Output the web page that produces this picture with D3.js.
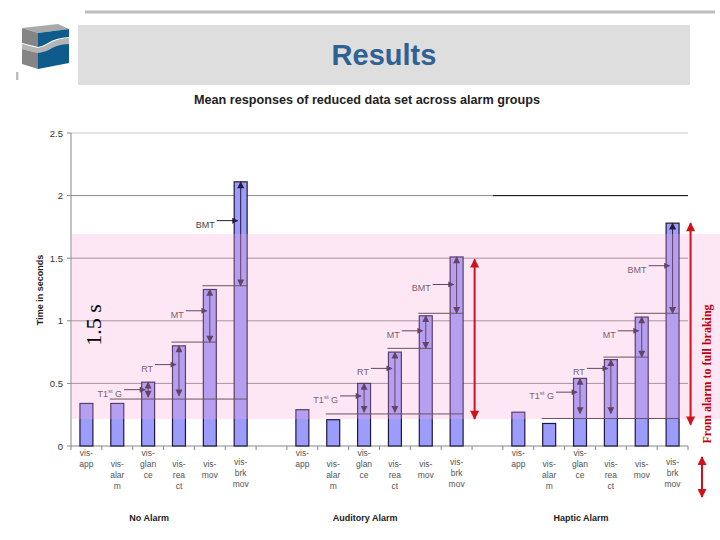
<!DOCTYPE html>
<html><head><meta charset="utf-8">
<script src="https://cdn.jsdelivr.net/npm/d3@7"></script>
<style>body{margin:0;background:#fff}svg{display:block;font-family:"Liberation Sans",Arial,sans-serif}</style>
</head><body>
<svg id="c" width="720" height="540"></svg>
<script>
// ---------- data ----------
const groups = ["No Alarm", "Auditory Alarm", "Haptic Alarm"];
const categories = ["vis-app", "vis-alarm", "vis-glance", "vis-react", "vis-mov", "vis-brk-mov"];
const categoryLines = [["vis-","app"],["vis-","alar","m"],["vis-","glan","ce"],["vis-","rea","ct"],["vis-","mov"],["vis-","brk","mov"]];
const noAlarm  = [0.34, 0.34, 0.51, 0.80, 1.25, 2.11];
const auditory = [0.29, 0.21, 0.50, 0.75, 1.04, 1.51];
const haptic   = [0.27, 0.18, 0.54, 0.69, 1.03, 1.78];
const yTicks = [0, 0.5, 1, 1.5, 2, 2.5];
const yTickLabels = ["0", "0.5", "1", "1.5", "2", "2.5"];
// phase arrows (low, high) on glance, react, mov, brk-mov bars
const phaseLabels = ["T1", "RT", "MT", "BMT"];
const noAlarmPhases  = [[0.39,0.51],[0.40,0.80],[0.83,1.25],[1.28,2.11]];
const auditoryPhases = [[0.27,0.50],[0.27,0.75],[0.78,1.04],[1.06,1.51]];
const hapticPhases   = [[0.26,0.54],[0.26,0.69],[0.71,1.03],[1.06,1.78]];
const noAlarmPointer  = [0.45, 0.65, 1.08, 1.80];
const auditoryPointer = [0.40, 0.62, 0.92, 1.29];
const hapticPointer   = [0.43, 0.62, 0.92, 1.44];
// level lines: value, from category, to category
const noAlarmLevels  = [[0.375,1,5],[0.83,3,4],[1.28,4,5]];
const auditoryLevels = [[0.256,1,5],[0.78,3,4],[1.06,4,5]];
const hapticLevels   = [[0.22,1,5],[0.71,3,4],[1.06,4,5]];
// red spans (alarm to full braking)
const redSpans = [null, [0.216, 1.49], [0.17, 1.78]];
const pinkBand = [0.216, 1.693];

const groupValues = [noAlarm, auditory, haptic];
const groupPhases = [noAlarmPhases, auditoryPhases, hapticPhases];
const groupPointers = [noAlarmPointer, auditoryPointer, hapticPointer];
const groupLevels = [noAlarmLevels, auditoryLevels, hapticLevels];

// ---------- setup ----------
const svg = d3.select("#c");
const defs = svg.append("defs");
function marker(id, color, w, h) {
  defs.append("marker").attr("id", id).attr("viewBox", "0 0 10 10")
    .attr("refX", 9).attr("refY", 5).attr("markerUnits", "userSpaceOnUse")
    .attr("markerWidth", w).attr("markerHeight", h).attr("orient", "auto-start-reverse")
    .append("path").attr("d", "M0,0L10,5L0,10Z").attr("fill", color);
}
marker("ah", "#2a1d3a", 8, 7);
marker("ahs", "#2a1d3a", 7, 6);
marker("ahr", "#d0101a", 11, 9);

// slots: 6 categories per group with one empty slot between groups
const slots = [];
groups.forEach((g, gi) => {
  categories.forEach(c => slots.push(g + "|" + c));
  if (gi < groups.length - 1) slots.push("gap" + gi);
});
const x = d3.scaleBand().domain(slots).range([71, 688]).paddingInner(0.58).paddingOuter(0.29);
const xs = d3.scaleBand().domain(slots).range([71, 688]);
const y = d3.scaleLinear().domain([0, 2.5]).range([446, 133]);
const key = (gi, ci) => groups[gi] + "|" + categories[ci];
const cx = (gi, ci) => x(key(gi, ci)) + x.bandwidth() / 2;

// ---------- header ----------
svg.append("line").attr("x1", 85).attr("x2", 715).attr("y1", 12).attr("y2", 12)
  .attr("stroke", "#bdbdbd").attr("stroke-width", 3);
svg.append("rect").attr("x", 78).attr("y", 25).attr("width", 612).attr("height", 60).attr("fill", "#dedede");
svg.append("text").attr("x", 384).attr("y", 65).attr("text-anchor", "middle")
  .attr("font-size", 29).attr("font-weight", "bold").attr("fill", "#2f6193").text("Results");
// logo
const logo = svg.append("g");
logo.append("path").attr("d", "M22,28 L58,24 L69,29 L38,33 Z").attr("fill", "#a9a9a9");
logo.append("path").attr("d", "M22,28 L38,33 L38,47 L22,43 Z").attr("fill", "#858585");
logo.append("path").attr("d", "M38,33 L69,29 L69,37 Q55,38 48,43 Q43,46 38,47 Z").attr("fill", "#0f5b8b");
logo.append("path").attr("d", "M22,44 L38,48 Q46,46 52,42 Q60,38 69,38 L69,44 Q58,45 50,49 Q44,53 38,53 L22,49 Z").attr("fill", "#b5b5b5");
logo.append("path").attr("d", "M22,49 L38,53 L38,69 L22,64 Z").attr("fill", "#858585");
logo.append("path").attr("d", "M38,53 Q46,52 52,48 Q60,44 69,44 L69,63 L38,69 Z").attr("fill", "#0f5b8b");
svg.append("rect").attr("x", 16).attr("y", 72).attr("width", 2.5).attr("height", 8).attr("fill", "#bdbdbd");

svg.append("text").attr("x", 367).attr("y", 104).attr("text-anchor", "middle")
  .attr("font-size", 13).attr("font-weight", "bold").attr("fill", "#222")
  .attr("textLength", 346).attr("lengthAdjust", "spacingAndGlyphs")
  .text("Mean responses of reduced data set across alarm groups");

// ---------- axes & gridlines ----------
const grid = svg.append("g");
yTicks.forEach((t, i) => {
  if (t > 0) grid.append("line").attr("x1", 71).attr("x2", 688).attr("y1", y(t)).attr("y2", y(t))
    .attr("stroke", i === 5 ? "#c8c8c8" : "#8a8a8a").attr("stroke-width", 1);
  grid.append("line").attr("x1", 67).attr("x2", 71).attr("y1", y(t)).attr("y2", y(t)).attr("stroke", "#888");
  grid.append("text").attr("x", 63).attr("y", y(t) + 3.5).attr("text-anchor", "end")
    .attr("font-size", 9.5).attr("fill", "#333").text(yTickLabels[i]);
});
grid.append("line").attr("x1", 71).attr("x2", 71).attr("y1", y(2.5)).attr("y2", y(0)).attr("stroke", "#888");
grid.append("line").attr("x1", 71).attr("x2", 688).attr("y1", y(0)).attr("y2", y(0)).attr("stroke", "#888");
slots.concat(["end"]).forEach((s, i) => {
  const xx = i < slots.length ? xs(s) : 688;
  grid.append("line").attr("x1", xx).attr("x2", xx).attr("y1", y(0)).attr("y2", y(0) + 4).attr("stroke", "#888");
});
svg.append("text").attr("transform", "translate(43,290) rotate(-90)").attr("text-anchor", "middle")
  .attr("font-size", 9).attr("font-weight", "bold").attr("fill", "#222").text("Time in seconds");

// ---------- bars ----------
const barsG = svg.append("g");
groups.forEach((g, gi) => {
  barsG.selectAll(null).data(groupValues[gi]).join("rect")
    .attr("x", (d, ci) => x(key(gi, ci))).attr("width", x.bandwidth())
    .attr("y", d => y(d)).attr("height", d => y(0) - y(d))
    .attr("fill", "#9c9cfb").attr("stroke", "#1c1840").attr("stroke-width", 1.2);
});

// ---------- annotations ----------
const ann = svg.append("g");
groups.forEach((g, gi) => {
  groupLevels[gi].forEach(([v, a, b]) => {
    ann.append("line").attr("x1", x(key(gi, a)) - 1).attr("x2", x(key(gi, b)) + x.bandwidth())
      .attr("y1", y(v)).attr("y2", y(v)).attr("stroke", "#333").attr("stroke-width", 1);
  });
  groupPhases[gi].forEach(([lo, hi], k) => {
    const xx = cx(gi, k + 2);
    ann.append("line").attr("x1", xx).attr("x2", xx).attr("y1", y(lo)).attr("y2", y(hi))
      .attr("stroke", "#2a1d3a").attr("stroke-width", 1)
      .attr("marker-start", "url(#ah)").attr("marker-end", "url(#ah)");
    const py = y(groupPointers[gi][k]);
    const end = xx - 3, start = end - 21;
    ann.append("line").attr("x1", start).attr("x2", end).attr("y1", py).attr("y2", py)
      .attr("stroke", "#2a1d3a").attr("stroke-width", 1).attr("marker-end", "url(#ahs)");
    const t = ann.append("text").attr("x", start - 2).attr("y", py + 7).attr("text-anchor", "end")
      .attr("font-size", 9).attr("fill", "#444");
    if (k === 0) {
      t.append("tspan").text("T1");
      t.append("tspan").attr("font-size", 6).attr("dy", -4).text("st");
      t.append("tspan").attr("dy", 4).text(" G");
    } else t.text(phaseLabels[k]);
  });
});

// category labels
groups.forEach((g, gi) => {
  categories.forEach((c, ci) => {
    const firstY = (ci === 0 || ci === 2) ? 456 : (ci === 5 ? 465 : 467);
    const t = svg.append("text").attr("text-anchor", "middle").attr("font-size", 8.5).attr("fill", "#555");
    categoryLines[ci].forEach((ln, li) => {
      t.append("tspan").attr("x", cx(gi, ci)).attr("y", firstY + li * 11).text(ln);
    });
  });
  svg.append("text").attr("x", cx(gi, 2) + 1).attr("y", 521).attr("text-anchor", "middle")
    .attr("font-size", 9).attr("font-weight", "bold").attr("fill", "#222").text(g);
});

// pink overlay
svg.append("rect").attr("x", 71).attr("width", 720 - 71)
  .attr("y", y(pinkBand[1])).attr("height", y(pinkBand[0]) - y(pinkBand[1]))
  .attr("fill", "rgb(250,170,215)").attr("opacity", 0.28);

// dark line at 2 in haptic region
svg.append("line").attr("x1", xs(groups[2] + "|" + categories[0]) - 10).attr("x2", 688)
  .attr("y1", y(2)).attr("y2", y(2)).attr("stroke", "#111").attr("stroke-width", 1);

// red arrows
redSpans.forEach((s, gi) => {
  if (!s) return;
  const xx = cx(gi, 5) + 18;
  svg.append("line").attr("x1", xx).attr("x2", xx).attr("y1", y(s[0])).attr("y2", y(s[1]))
    .attr("stroke", "#d0101a").attr("stroke-width", 2)
    .attr("marker-start", "url(#ahr)").attr("marker-end", "url(#ahr)");
});
svg.append("line").attr("x1", 702).attr("x2", 702).attr("y1", 457).attr("y2", 497)
  .attr("stroke", "#d0101a").attr("stroke-width", 2)
  .attr("marker-start", "url(#ahr)").attr("marker-end", "url(#ahr)");

svg.append("text").attr("transform", "translate(711,374) rotate(-90)").attr("text-anchor", "middle")
  .attr("font-family", "'Liberation Serif','Times New Roman',serif").attr("font-size", 12)
  .attr("font-weight", "bold").attr("fill", "#c00010").text("From alarm to full braking");
svg.append("text").attr("transform", "translate(101,325) rotate(-90)").attr("text-anchor", "middle")
  .attr("font-family", "'Liberation Serif','Times New Roman',serif").attr("font-size", 22)
  .attr("fill", "#000").text("1.5 s");
</script>
</body></html>
